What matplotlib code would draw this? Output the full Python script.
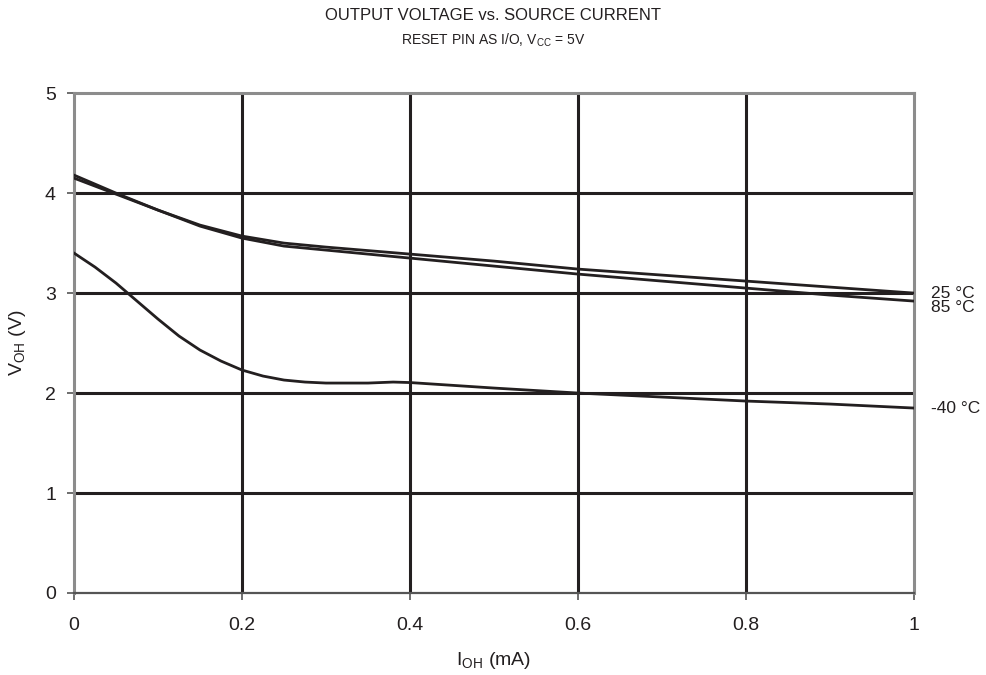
import numpy as np
import matplotlib.pyplot as plt

plt.rcParams['font.family'] = ['Liberation Sans', 'DejaVu Sans']

# I_OH (mA) sample points for the two upper curves
i_hi = [0.0, 0.05, 0.1, 0.15, 0.2, 0.25, 0.3, 0.4, 0.5, 0.6, 0.7, 0.8, 0.9, 1.0]
v_25 = [4.15, 3.99, 3.83, 3.68, 3.57, 3.50, 3.46, 3.39, 3.32, 3.24, 3.18, 3.12, 3.06, 3.00]
v_85 = [4.18, 4.00, 3.83, 3.67, 3.55, 3.47, 3.43, 3.35, 3.27, 3.19, 3.12, 3.05, 2.98, 2.92]

# -40 °C curve has more shape, so more points
i_m40 = [0.0, 0.025, 0.05, 0.075, 0.1, 0.125, 0.15, 0.175, 0.2, 0.225, 0.25,
         0.275, 0.3, 0.35, 0.38, 0.4, 0.5, 0.6, 0.7, 0.8, 0.9, 1.0]
v_m40 = [3.40, 3.26, 3.10, 2.92, 2.74, 2.57, 2.43, 2.32, 2.23, 2.17, 2.13,
         2.11, 2.10, 2.10, 2.11, 2.105, 2.05, 2.00, 1.96, 1.92, 1.89, 1.85]

curve_labels = ['25 °C', '85 °C', '-40 °C']
label_offsets = [0, -4.5, 0]   # points, vertical nudge of the end labels

x_ticks = [0, 0.2, 0.4, 0.6, 0.8, 1]
x_tick_labels = ['0', '0.2', '0.4', '0.6', '0.8', '1']
y_ticks = [0, 1, 2, 3, 4, 5]

fig = plt.figure(figsize=(9.87, 6.75), dpi=100)
ax = fig.add_axes([0.075, 0.1215, 0.851, 0.7405])

# grid drawn by hand so the spines can stay gray
for xv in x_ticks[1:-1]:
    ax.axvline(xv, color='#231f20', lw=2.2, zorder=1)
for yv in y_ticks[1:-1]:
    ax.axhline(yv, color='#231f20', lw=2.2, zorder=1)

series = [(i_hi, v_25), (i_hi, v_85), (i_m40, v_m40)]
for (xs, ys), lab, off in zip(series, curve_labels, label_offsets):
    ax.plot(xs, ys, color='#231f20', lw=2.0, zorder=3, solid_joinstyle='round')
    ax.annotate(lab, xy=(xs[-1], ys[-1]), xytext=(12, off),
                textcoords='offset points', va='center', ha='left',
                fontsize=12.5, color='#231f20', annotation_clip=False)

ax.set_xlim(0, 1)
ax.set_ylim(0, 5)
ax.set_xticks(x_ticks)
ax.set_xticklabels(x_tick_labels)
ax.set_yticks(y_ticks)
ax.tick_params(direction='out', length=5, width=1.2, color='#555555',
               labelsize=14, labelcolor='#231f20')
ax.tick_params(axis='x', pad=12)
ax.tick_params(axis='y', pad=8)

for side in ['left', 'right', 'top']:
    ax.spines[side].set_color('#8c8c8c')
    ax.spines[side].set_linewidth(2.2)
ax.spines['bottom'].set_color('#555555')
ax.spines['bottom'].set_linewidth(1.6)

ax.set_xlabel('I$_{\\mathregular{OH}}$ (mA)', fontsize=14, color='#231f20', labelpad=12)
ax.set_ylabel('V$_{\\mathregular{OH}}$ (V)', fontsize=14, color='#231f20', labelpad=12)

fig.text(0.5, 0.977, 'OUTPUT VOLTAGE vs. SOURCE CURRENT', ha='center', va='center',
         fontsize=12, color='#231f20')
fig.text(0.5, 0.941, 'RESET PIN AS I/O, V$_{\\mathregular{CC}}$ = 5V', ha='center',
         va='center', fontsize=10, color='#231f20')

fig.savefig('out.png', dpi=100, facecolor='white')
